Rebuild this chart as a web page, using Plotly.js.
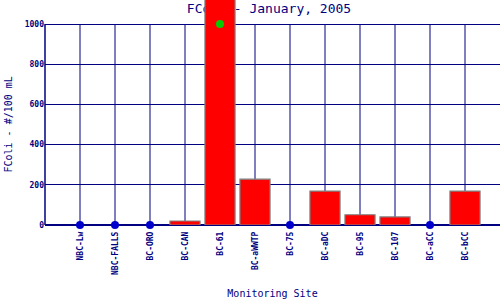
<!DOCTYPE html>
<html>
<head>
<meta charset="utf-8">
<script src="https://cdn.plot.ly/plotly-3.0.1.min.js"></script>
<style>
html,body{margin:0;padding:0;background:#fff;}
#wrap{position:relative;width:500px;height:300px;}
#titlediv,#chart{position:absolute;left:0;top:0;width:500px;height:300px;}
</style>
</head>
<body>
<div id="wrap"><div id="titlediv"></div><div id="chart"></div></div>
<script>
const sites = ["NBC-Lw","NBC-FALLS","BC-ORO","BC-CAN","BC-61","BC-aWWTP","BC-75","BC-aDC","BC-95","BC-107","BC-aCC","BC-bCC"];
const fcoli = [null,null,null,20,1200,228,null,169,51,40,null,169];
const zeroSites = ["NBC-Lw","NBC-FALLS","BC-ORO","BC-75","BC-aCC"];
const zeroValues = [0,0,0,0,0];
const overSites = ["BC-61"];
const overValues = [1000];
const yTicks = [0,200,400,600,800,1000];
const yMax = 1000;
const titleText = "FColi - January, 2005";
const yTitle = "FColi - #/100 mL";
const xTitle = "Monitoring Site";

const navy = "#000080";
const mono = "DejaVu Sans Mono, Liberation Mono, monospace";

Plotly.newPlot("titlediv", [], {
  width:500, height:300,
  margin:{l:45,r:0,t:24,b:75},
  paper_bgcolor:"#fff", plot_bgcolor:"#fff",
  title:{text:titleText, x:0.538, xanchor:"center", y:0.972, yanchor:"middle", font:{family:mono,size:13,color:navy}},
  xaxis:{visible:false}, yaxis:{visible:false}, showlegend:false
}, {staticPlot:true, displayModeBar:false});

const traces = [
  {type:"bar", x:sites, y:fcoli, width:0.86, cliponaxis:false,
   marker:{color:"#ff0000", line:{color:"#808080", width:1.2}}, hoverinfo:"none"},
  {type:"scatter", mode:"markers", x:zeroSites, y:zeroValues, cliponaxis:false,
   marker:{color:"#0000cc", size:8}, hoverinfo:"none"},
  {type:"scatter", mode:"markers", x:overSites, y:overValues, cliponaxis:false,
   marker:{color:"#00cc00", size:8}, hoverinfo:"none"}
];

// vertical grid lines at each site, and left axis line, spanning the y range 0..yMax
const shapes = sites.map(s => ({type:"line", xref:"x", yref:"y", x0:s, x1:s, y0:0, y1:yMax,
  line:{color:navy, width:1}, layer:"below"}));
shapes.push({type:"line", xref:"paper", yref:"y", x0:0, x1:0, y0:0, y1:yMax,
  line:{color:navy, width:1.5}, layer:"below"});

// plot area height 225px with 1000 placed 24px below the top edge
const plotH = 225, topGap = 24;
const yTop = yMax * plotH / (plotH - topGap);

Plotly.newPlot("chart", traces, {
  width:500, height:300,
  margin:{l:45,r:0,t:0,b:75},
  paper_bgcolor:"rgba(0,0,0,0)", plot_bgcolor:"rgba(0,0,0,0)",
  showlegend:false,
  shapes:shapes,
  annotations:[{text:yTitle, xref:"paper", yref:"y", x:0, y:yMax/2, xanchor:"center", yanchor:"middle",
    xshift:-37, textangle:-90, showarrow:false, font:{family:mono,size:10,color:navy}}],
  xaxis:{type:"category", categoryorder:"array", categoryarray:sites,
    range:[-1,12], showgrid:false,
    showline:false, zeroline:false, ticks:"", tickangle:-90, ticklabelstandoff:4,
    tickfont:{family:mono,size:8,color:navy,weight:"bold"},
    title:{text:xTitle, font:{family:mono,size:10,color:navy}, standoff:16},
    fixedrange:true},
  yaxis:{range:[0,yTop], tickvals:yTicks, ticktext:yTicks.map(String),
    showgrid:true, gridcolor:navy, gridwidth:1,
    showline:false, zeroline:true, zerolinecolor:navy, zerolinewidth:1.5,
    ticks:"", tickfont:{family:mono,size:8,color:navy,weight:"bold"},
    fixedrange:true}
}, {staticPlot:true, displayModeBar:false});
</script>
</body>
</html>
